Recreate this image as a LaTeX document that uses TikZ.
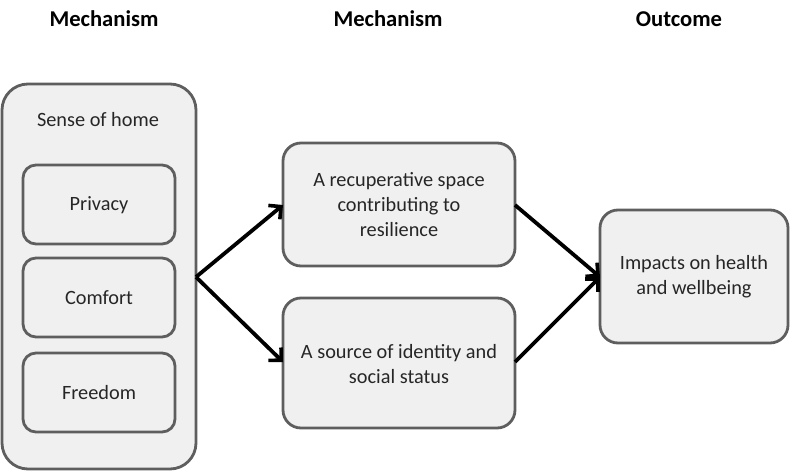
\documentclass[tikz,border=0pt]{standalone}
\usepackage{fontspec}
\setmainfont{Carlito}
\usetikzlibrary{arrows.meta}
\definecolor{boxfill}{HTML}{F0F0F0}
\definecolor{boxline}{HTML}{5E5E5E}
\tikzset{
  rbox/.style={draw=boxline, line width=2.8pt, fill=boxfill, rounded corners=#1},
  lbl/.style={font=\fontsize{20.3}{25}\selectfont, align=center, text=black!85},
  hdr/.style={font=\fontsize{22.6}{26}\selectfont\bfseries},
  arr/.style={line width=3.8pt, -{Straight Barb[length=9pt,width=18pt,line width=3.6pt]}}
}
\begin{document}
\begin{tikzpicture}[x=1pt,y=-1pt]
\useasboundingbox (0,0) rectangle (790,471);
% headers
\node[hdr] (h1) at (104,19) {Mechanism};
\node[hdr] (h2) at (388,19) {Mechanism};
\node[hdr] (h3) at (679,19) {Outcome};
% left container
\draw[rbox=26pt] (2,84) rectangle (196,469);
\coordinate (outerE) at (196,277);
\node[lbl] (home) at (98,120) {Sense of home};
\draw[rbox=13pt] (23,165) rectangle (175,244);
\node[lbl] (privacy) at (99,205) {Privacy};
\draw[rbox=13pt] (23,258) rectangle (175,337);
\node[lbl] (comfort) at (99,298) {Comfort};
\draw[rbox=13pt] (23,353) rectangle (175,432);
\node[lbl] (freedom) at (99,393) {Freedom};
% middle boxes
\draw[rbox=18pt] (283,143) rectangle (515,266);
\node[lbl] (recup) at (399,205) {A recuperative space\\contributing to\\resilience};
\coordinate (recupW) at (283,205);
\coordinate (recupE) at (515,205);
\draw[rbox=18pt] (283,298) rectangle (515,428);
\node[lbl] (ident) at (399,364) {A source of identity and\\social status};
\coordinate (identW) at (283,362);
\coordinate (identE) at (515,362);
% outcome
\draw[rbox=18pt] (600,210) rectangle (788,343);
\node[lbl] (impact) at (694,277) {Impacts on health\\and wellbeing};
\coordinate (impactW) at (600,277);
% arrows
\draw[arr] (outerE) -- (recupW);
\draw[arr] (outerE) -- (identW);
\draw[arr] (recupE) -- (impactW);
\draw[arr] (identE) -- (impactW);
\end{tikzpicture}
\end{document}
